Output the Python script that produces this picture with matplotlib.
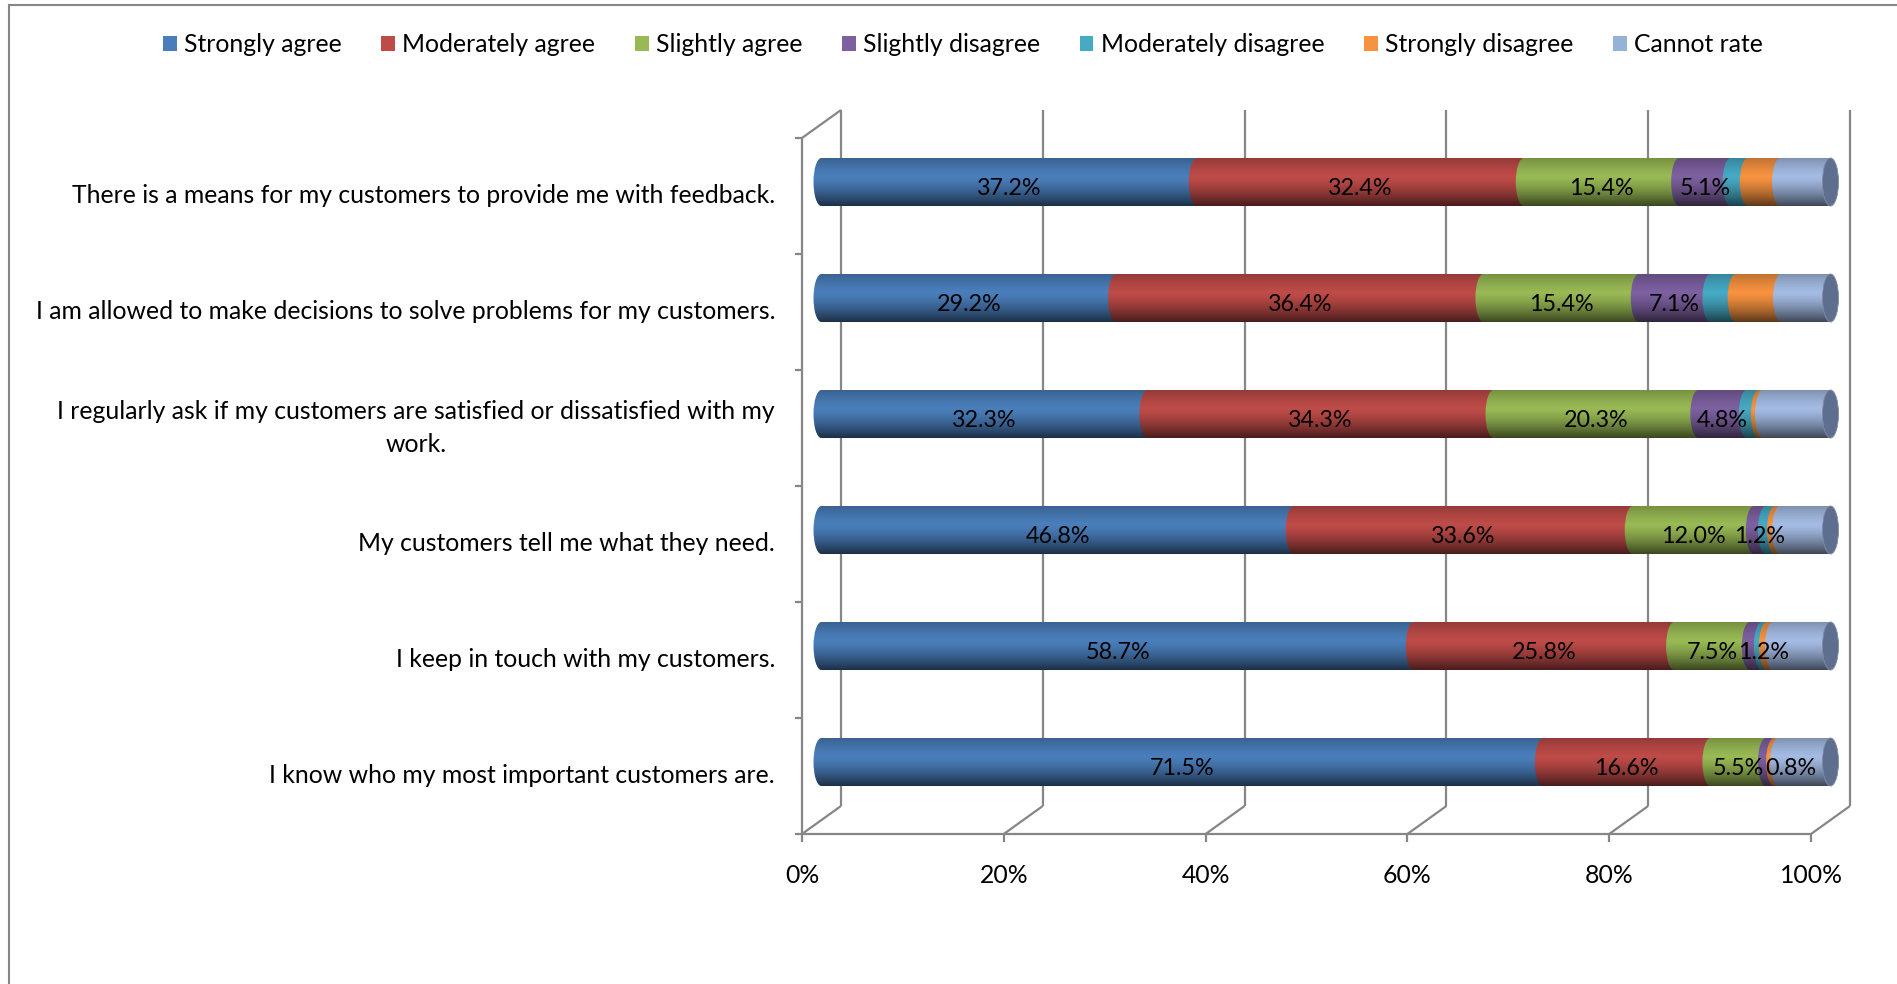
import numpy as np
import matplotlib
matplotlib.use("Agg")
import matplotlib.pyplot as plt
from matplotlib.patches import Ellipse, Patch, Polygon
from matplotlib.lines import Line2D

# ---------------- data ----------------
categories = [
    "There is a means for my customers to provide me with feedback.",
    "I am allowed to make decisions to solve problems for my customers.",
    "I regularly ask if my customers are satisfied or dissatisfied with my\nwork.",
    "My customers tell me what they need.",
    "I keep in touch with my customers.",
    "I know who my most important customers are.",
]
series_names = ["Strongly agree", "Moderately agree", "Slightly agree",
                "Slightly disagree", "Moderately disagree", "Strongly disagree",
                "Cannot rate"]
strongly_agree = [37.2, 29.2, 32.3, 46.8, 58.7, 71.5]
moderately_agree = [32.4, 36.4, 34.3, 33.6, 25.8, 16.6]
slightly_agree = [15.4, 15.4, 20.3, 12.0, 7.5, 5.5]
slightly_disagree = [5.1, 7.1, 4.8, 1.2, 1.2, 0.8]
moderately_disagree = [1.7, 2.5, 1.2, 0.9, 0.5, 0.0]
strongly_disagree = [3.2, 4.5, 0.4, 0.5, 0.6, 0.4]
cannot_rate = [5.0, 4.9, 6.7, 5.0, 5.7, 5.2]
labelled_series = 4  # first four series carry data labels
x_ticks = [0, 20, 40, 60, 80, 100]
tick_labels = ["0%", "20%", "40%", "60%", "80%", "100%"]

series_values = [strongly_agree, moderately_agree, slightly_agree, slightly_disagree,
                 moderately_disagree, strongly_disagree, cannot_rate]
colors = ["#4A7EBB", "#BE4B48", "#98B954", "#7D60A0", "#46AAC5", "#F69240", "#A3BBE3"]
legend_colors = ["#4A7EBB", "#BE4B48", "#98B954", "#7D60A0", "#46AAC5", "#F69240", "#95B3D7"]
cap_color = "#5E6E8E"
grid_color = "#868686"

FS = 17.8
FS_DATA = 16.8

# ---------------- figure ----------------
plt.rcParams["font.family"] = ["Lato", "DejaVu Sans"]
W_PX, H_PX = 1897, 984
fig = plt.figure(figsize=(W_PX / 100, H_PX / 100), dpi=100)

# front plane geometry in pixels
F_L, F_R, F_T, F_B = 802, 1811, 138, 834
n = len(categories)
px_x = 100.0 / (F_R - F_L)
px_y = n / (F_B - F_T)

AX_R, AX_T = 1875, 95
ax = fig.add_axes([F_L / W_PX, 1 - F_B / H_PX, (AX_R - F_L) / W_PX, (F_B - AX_T) / H_PX])
ax.set_xlim(0, (AX_R - F_L) * px_x)
ax.set_ylim(n, -(F_T - AX_T) * px_y)
ax.axis("off")

dx, dy = 39 * px_x, 28 * px_y          # depth offset (back wall)
bx, by = dx / 2, dy / 2                # bars sit mid-depth
bar_h = 48 * px_y
cap_w = 2 * 8 * px_x

ypos = np.arange(n) + 0.5
yb = ypos - by

lw = 1.6
line_kw = dict(color=grid_color, lw=lw, clip_on=False, solid_capstyle="butt", zorder=1)
# back wall gridlines and floor diagonals
for t in x_ticks:
    ax.plot([t + dx, t + dx], [n - dy, -dy], **line_kw)
    ax.plot([t, t + dx], [n, n - dy], **line_kw)
    ax.plot([t, t], [n, n + 8 * px_y], **line_kw)
# left wall
ax.plot([0, 0], [n, 0], **line_kw)
ax.plot([0, dx], [0, -dy], **line_kw)
# front floor edge
ax.plot([0, 100], [n, n], **line_kw)
# category ticks
for b in range(n + 1):
    ax.plot([-7 * px_x, 0], [b, b], **line_kw)

# tick labels
for t, lab in zip(x_ticks, tick_labels):
    ax.text(t, n + 42 * px_y, lab, ha="center", va="center", fontsize=FS, color="black")

# category labels
for y, cat in zip(ypos, categories):
    ax.text(-27 * px_x, y, cat, ha="right", va="center", multialignment="center",
            fontsize=FS, linespacing=1.5, color="black")

# bars
vals = np.array(series_values, dtype=float)
cum = np.zeros(n)
row_labels = [[] for _ in range(n)]
for j, (name, v, c) in enumerate(zip(series_names, vals, colors)):
    z = 3 + 0.05 * j
    ax.barh(yb, v, left=cum + bx, height=bar_h, color=c, linewidth=0, zorder=z, clip_on=False)
    for i in range(n):
        if v[i] > 0:
            ax.add_patch(Ellipse((cum[i] + bx, yb[i]), cap_w, bar_h, facecolor=c,
                                 linewidth=0, zorder=z, clip_on=False))
    if j < labelled_series:
        for i in range(n):
            row_labels[i].append(
                ax.text(cum[i] + v[i] / 2 + bx, yb[i] + 7 * px_y, f"{v[i]:.1f}%",
                        ha="center", va="center", fontsize=FS_DATA, color="black", zorder=7))
    cum = cum + v

# push data labels right so that neighbours within a row do not overlap
renderer = fig.canvas.get_renderer()
for labels in row_labels:
    for prev, cur in zip(labels[:-1], labels[1:]):
        e0 = prev.get_window_extent(renderer)
        e1 = cur.get_window_extent(renderer)
        overlap = e0.x1 + 1 - e1.x0
        if overlap > 0:
            x, y = cur.get_position()
            cur.set_position((x + overlap * px_x, y))

# cylinder shading
tt = np.linspace(0, 1, 80)
alpha = np.where(tt < 0.38, 0.22 * ((0.38 - tt) / 0.38) ** 1.3, 0.62 * ((tt - 0.38) / 0.62) ** 1.4)
grad = np.zeros((len(tt), 1, 4))
grad[:, 0, 3] = alpha
theta = np.linspace(np.pi / 2, 3 * np.pi / 2, 40)
for i in range(n):
    xs = list(bx + cap_w / 2 * np.cos(theta)) + [cum[i] + bx, cum[i] + bx]
    ys = list(yb[i] - bar_h / 2 * np.sin(theta)) + [yb[i] + bar_h / 2, yb[i] - bar_h / 2]
    poly = Polygon(np.column_stack([xs, ys]), closed=True, transform=ax.transData)
    im = ax.imshow(grad, extent=(bx - cap_w / 2, cum[i] + bx, yb[i] + bar_h / 2, yb[i] - bar_h / 2),
                   aspect="auto", interpolation="bilinear", zorder=4)
    im.set_clip_path(poly)
    # end face of the cylinder
    ax.add_patch(Ellipse((cum[i] + bx, yb[i]), cap_w, bar_h, facecolor=cap_color,
                         edgecolor="#7F8AA3", linewidth=0.6, zorder=5, clip_on=False))

ax.set_xlim(0, (AX_R - F_L) * px_x)
ax.set_ylim(n, -(F_T - AX_T) * px_y)

# legend
handles = [Patch(facecolor=c, edgecolor="none", label=s) for s, c in zip(series_names, legend_colors)]
fig.legend(handles=handles, loc="center", bbox_to_anchor=(963 / W_PX, 1 - 45 / H_PX), ncol=7,
           frameon=False, fontsize=FS, handlelength=0.55, handleheight=0.55,
           handletextpad=0.3, columnspacing=1.6)

# outer chart border (top and left visible)
fig.add_artist(Line2D([9 / W_PX, 9 / W_PX], [0, 1 - 5 / H_PX], transform=fig.transFigure,
                      color=grid_color, lw=1.5))
fig.add_artist(Line2D([9 / W_PX, 1], [1 - 5 / H_PX, 1 - 5 / H_PX], transform=fig.transFigure,
                      color=grid_color, lw=1.5))

fig.savefig("out.png", dpi=100, facecolor="white")
